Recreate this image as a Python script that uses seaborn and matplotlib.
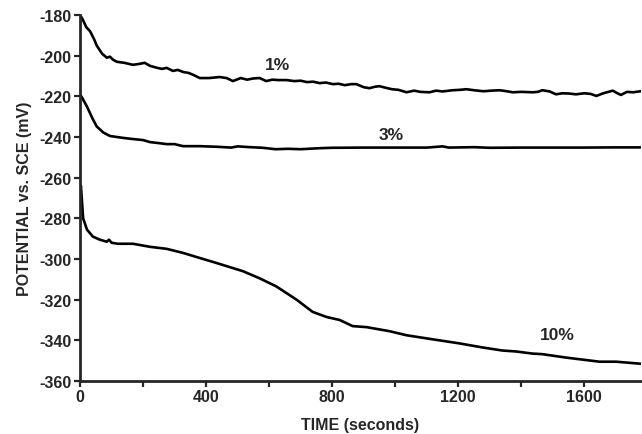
import matplotlib
matplotlib.use("Agg")
import matplotlib.pyplot as plt
from matplotlib.ticker import MultipleLocator
import seaborn as sns
import pandas as pd

# potential vs time for three concentrations
t_1pct = [0, 8, 20, 32, 45, 53, 70, 85, 95, 105, 117, 140, 168, 190, 205, 222, 245, 260,
          275, 295, 310, 327, 345, 360, 380, 410, 443, 465, 485, 510, 530, 550, 570, 591,
          610, 630, 655, 680, 700, 720, 740, 760, 780, 802, 820, 840, 860, 877, 900, 918,
          935, 950, 970, 990, 1010, 1036, 1060, 1080, 1109, 1130, 1150, 1182, 1205, 1226,
          1250, 1280, 1305, 1331, 1350, 1373, 1400, 1436, 1452, 1467, 1490, 1510, 1530,
          1550, 1573, 1600, 1620, 1638, 1660, 1690, 1705, 1716, 1735, 1755, 1778]
v_1pct = [-180, -182, -186, -188, -192, -195, -199, -201, -200.5, -202, -203, -203.5, -204.5,
          -204, -203.5, -205, -206, -206.5, -206, -207.5, -207, -208, -208.5, -209.5, -211,
          -211, -210.5, -211, -212.5, -211, -211.8, -211.2, -211, -212.5, -211.8, -212, -212,
          -212.5, -212.3, -213, -212.8, -213.5, -213.2, -214, -213.8, -214.5, -214, -214,
          -215.5, -216, -215.3, -215, -215.8, -216.5, -216.8, -218, -217.2, -217.8, -218,
          -217.2, -217.6, -217, -216.8, -216.5, -217, -217.5, -217.2, -217, -217.4, -218,
          -217.8, -218, -217.8, -217, -217.6, -219, -218.5, -218.6, -219, -218.5, -218.8,
          -219.8, -218.5, -217.2, -218.5, -219.3, -217.8, -218, -217.5]

t_3pct = [0, 8, 22, 40, 53, 74, 95, 117, 140, 168, 200, 222, 250, 275, 300, 327, 380, 434,
          480, 500, 540, 580, 620, 660, 700, 760, 800, 900, 1000, 1100, 1150, 1170, 1250,
          1300, 1400, 1500, 1600, 1700, 1778]
v_3pct = [-219, -221, -225, -231, -234.8, -237.8, -239.5, -240, -240.5, -241, -241.5, -242.5,
          -243, -243.5, -243.5, -244.5, -244.5, -244.8, -245.2, -244.6, -245, -245.3, -246,
          -245.8, -246, -245.5, -245.3, -245.2, -245.2, -245.2, -244.6, -245.2, -245, -245.3,
          -245.2, -245.2, -245.2, -245.1, -245.1]

t_10pct = [0, 3, 6, 10, 22, 41, 63, 85, 92, 100, 120, 168, 222, 275, 327, 380, 434, 517,
           570, 623, 687, 738, 782, 824, 865, 909, 982, 1036, 1119, 1204, 1277, 1340, 1385,
           1435, 1467, 1543, 1648, 1701, 1778]
v_10pct = [-266, -264, -271, -280, -285.5, -289, -290.5, -291.5, -290.5, -292, -292.5, -292.5,
           -294, -295, -297, -299.5, -302, -306, -309.5, -313.5, -320, -326, -328.5, -330,
           -333, -333.5, -335.5, -337.5, -339.5, -341.5, -343.5, -345, -345.5, -346.5, -346.8,
           -348.5, -350.5, -350.5, -351.5]

series_labels = ["1%", "3%", "10%"]
label_pos_t = [627, 988, 1515]
label_pos_v = [-204.5, -238.7, -337]

sns.set_style("ticks")
plt.rcParams["font.family"] = ["Liberation Sans", "DejaVu Sans"]
plt.rcParams["font.weight"] = "bold"
plt.rcParams["axes.unicode_minus"] = False

fig = plt.figure(figsize=(6.42, 4.35), dpi=100)
ax = fig.add_axes([0.1246, 0.1218, 0.874, 0.8414])

for t, v in [(t_1pct, v_1pct), (t_3pct, v_3pct), (t_10pct, v_10pct)]:
    df = pd.DataFrame({"t": t, "v": v})
    sns.lineplot(data=df, x="t", y="v", ax=ax, color="black", linewidth=1.9,
                 estimator=None, sort=False)

for lab, x, y in zip(series_labels, label_pos_t, label_pos_v):
    ax.text(x, y, lab, fontsize=12.5, fontweight="bold", ha="center", va="center")

ax.set_xlim(0, 1780)
ax.set_ylim(-360, -180)
ax.xaxis.set_major_locator(MultipleLocator(400))
ax.xaxis.set_minor_locator(MultipleLocator(200))
ax.yaxis.set_major_locator(MultipleLocator(20))
ax.tick_params(axis="both", which="both", direction="out", length=4, width=1.6,
               labelsize=11.5, pad=2)
for lbl in ax.get_xticklabels() + ax.get_yticklabels():
    lbl.set_fontweight("bold")

ax.set_xlabel("TIME (seconds)", fontsize=11.5, fontweight="bold", labelpad=9)
ax.set_ylabel("POTENTIAL vs. SCE (mV)", fontsize=11.5, fontweight="bold", labelpad=5)

sns.despine(ax=ax)
for side in ["left", "bottom"]:
    ax.spines[side].set_linewidth(2.0)

fig.savefig("out.png", dpi=100)
